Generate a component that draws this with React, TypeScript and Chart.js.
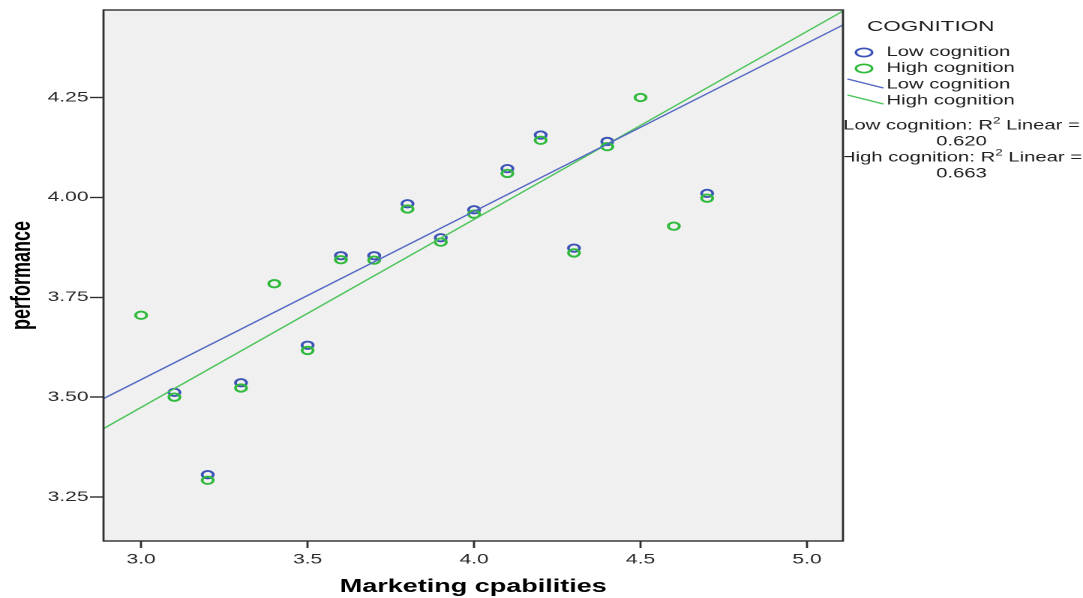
import { useEffect, useRef } from "react";
import { Chart, registerables } from "chart.js";

Chart.register(...registerables);

// Page size and horizontal stretch of the drawing (the chart is laid out
// narrower and shown wider, as the exported figure was).
const PAGE_W = 1083;
const PAGE_H = 598;
const STRETCH = 1.5;
const CHART_W = Math.round(PAGE_W / STRETCH);

// Axis ranges and ticks
const xMin = 2.887;
const xMax = 5.108;
const yMin = 3.14;
const yMax = 4.469;
const xTickValues = [3.0, 3.5, 4.0, 4.5, 5.0];
const yTickValues = [3.25, 3.5, 3.75, 4.0, 4.25];

// Groups
const legendTitle = "COGNITION";
const groupNames = ["Low cognition", "High cognition"];
const r2Values = [0.62, 0.663];

// Low cognition observations
const lowX = [3.1, 3.2, 3.3, 3.5, 3.6, 3.7, 3.8, 3.9, 4.0, 4.1, 4.2, 4.3, 4.4, 4.7];
const lowY = [3.512, 3.306, 3.536, 3.63, 3.854, 3.854, 3.984, 3.899, 3.969, 4.072, 4.156, 3.873, 4.14, 4.01];

// High cognition observations
const highX = [3.0, 3.1, 3.2, 3.3, 3.4, 3.5, 3.6, 3.7, 3.8, 3.9, 4.0, 4.1, 4.2, 4.3, 4.4, 4.5, 4.6, 4.7];
const highY = [3.705, 3.5, 3.292, 3.523, 3.784, 3.617, 3.844, 3.843, 3.971, 3.888, 3.958, 4.06, 4.143, 3.861, 4.127, 4.25, 3.928, 3.998];

// Linear fit coefficients (slope, intercept) per group
const lowFit = [0.421, 2.281];
const highFit = [0.4705, 2.063];

const FONT = '"Liberation Sans", Arial, sans-serif';
const BLUE = "#3d54b6";
const GREEN = "#2fba3c";
const BLUE_LINE = "#5468c4";
const GREEN_LINE = "#4cc45a";
const PLOT_BG = "#f0f0f0";
const FRAME = "#2e2e2e";
const TEXT = "#1e1e1e";

const toPoints = (xs: number[], ys: number[]) => xs.map((x, i) => ({ x, y: ys[i] }));
const fitLine = (fit: number[]) => [xMin, xMax].map((x) => ({ x, y: fit[1] + fit[0] * x }));

const framePlugin = {
  id: "frameAndLegend",
  beforeDraw(chart: any) {
    const { ctx, chartArea: a } = chart;
    ctx.save();
    ctx.fillStyle = "#ffffff";
    ctx.fillRect(0, 0, chart.width, chart.height);
    ctx.fillStyle = PLOT_BG;
    ctx.fillRect(a.left, a.top, a.right - a.left, a.bottom - a.top);
    ctx.restore();
  },
  afterDraw(chart: any) {
    const { ctx, chartArea: a } = chart;
    ctx.save();
    ctx.strokeStyle = FRAME;
    ctx.lineWidth = 1.4;
    ctx.strokeRect(a.left, a.top, a.right - a.left, a.bottom - a.top);
    ctx.restore();

    // Legend panel to the right of the plot, clipped at the frame
    ctx.save();
    ctx.beginPath();
    ctx.rect(a.right + 1, 0, chart.width - a.right, chart.height);
    ctx.clip();
    ctx.fillStyle = TEXT;
    ctx.textBaseline = "middle";
    ctx.textAlign = "left";

    const r = a.right;
    ctx.font = `15px ${FONT}`;
    ctx.fillText(legendTitle, r + 16, 27);

    const markerColors = [BLUE, GREEN];
    const lineColors = [BLUE_LINE, GREEN_LINE];
    ctx.font = `13.5px ${FONT}`;
    groupNames.forEach((name, i) => {
      const y = 52.5 + i * 16;
      ctx.strokeStyle = markerColors[i];
      ctx.lineWidth = 1.7;
      ctx.beginPath();
      ctx.ellipse(r + 14, y, 5.4, 4.1, 0, 0, Math.PI * 2);
      ctx.stroke();
      ctx.fillText(name, r + 29, y);
    });
    groupNames.forEach((name, i) => {
      const y = 85 + i * 16;
      ctx.strokeStyle = lineColors[i];
      ctx.lineWidth = 1.3;
      ctx.beginPath();
      ctx.moveTo(r + 3, y - 6);
      ctx.lineTo(r + 27, y + 3);
      ctx.stroke();
      ctx.fillText(name, r + 29, y);
    });

    const cx = (r + chart.width) / 2 - 1;
    const main = `13.5px ${FONT}`;
    const sup = `9px ${FONT}`;
    groupNames.forEach((name, i) => {
      const y = 126 + i * 32;
      const head = `${name}: R`;
      const tail = " Linear =";
      ctx.font = main;
      const w1 = ctx.measureText(head).width;
      const w3 = ctx.measureText(tail).width;
      ctx.font = sup;
      const w2 = ctx.measureText("2").width;
      let x = cx - (w1 + w2 + w3) / 2;
      ctx.textAlign = "left";
      ctx.font = main;
      ctx.fillText(head, x, y);
      x += w1;
      ctx.font = sup;
      ctx.fillText("2", x, y - 5);
      x += w2;
      ctx.font = main;
      ctx.fillText(tail, x, y);
      ctx.textAlign = "center";
      ctx.fillText(r2Values[i].toFixed(3), cx, y + 16);
    });
    ctx.restore();
  },
};

export default function App() {
  const canvasRef = useRef<HTMLCanvasElement | null>(null);

  useEffect(() => {
    document.body.style.margin = "0";
    const canvas = canvasRef.current;
    if (!canvas) return;

    const tickFont = { family: FONT, size: 14 };
    const titleFont = { family: FONT, size: 18, weight: "bold" as const };

    const chart = new Chart(canvas, {
      type: "scatter",
      data: {
        datasets: [
          {
            label: `${groupNames[0]} fit`,
            data: fitLine(lowFit),
            showLine: true,
            borderColor: BLUE_LINE,
            borderWidth: 1.3,
            pointRadius: 0,
          },
          {
            label: `${groupNames[1]} fit`,
            data: fitLine(highFit),
            showLine: true,
            borderColor: GREEN_LINE,
            borderWidth: 1.3,
            pointRadius: 0,
          },
          {
            label: groupNames[1],
            data: toPoints(highX, highY),
            pointRadius: 3.7,
            pointBorderWidth: 1.9,
            pointBorderColor: GREEN,
            pointBackgroundColor: "rgba(0,0,0,0)",
          },
          {
            label: groupNames[0],
            data: toPoints(lowX, lowY),
            pointRadius: 3.7,
            pointBorderWidth: 1.9,
            pointBorderColor: BLUE,
            pointBackgroundColor: "rgba(0,0,0,0)",
          },
        ],
      },
      options: {
        responsive: false,
        animation: false,
        devicePixelRatio: 2,
        events: [],
        layout: { padding: { top: 10, right: CHART_W - 562, left: 0, bottom: 0 } },
        plugins: { legend: { display: false }, tooltip: { enabled: false } },
        scales: {
          x: {
            type: "linear",
            min: xMin,
            max: xMax,
            afterBuildTicks: (s: any) => {
              s.ticks = xTickValues.map((value) => ({ value }));
            },
            afterFit: (s: any) => {
              s.height = 57;
            },
            ticks: {
              autoSkip: false,
              maxRotation: 0,
              padding: 3,
              color: "#2a2a2a",
              font: tickFont,
              callback: (v: any) => Number(v).toFixed(1),
            },
            grid: {
              drawOnChartArea: false,
              drawTicks: true,
              tickLength: 7,
              tickColor: "#2e2e2e",
              tickWidth: 1.4,
            },
            border: { display: false },
            title: {
              display: true,
              text: "Marketing cpabilities",
              color: "#000",
              font: titleFont,
              padding: { top: 0, bottom: 0 },
            },
          },
          y: {
            type: "linear",
            min: yMin,
            max: yMax,
            afterBuildTicks: (s: any) => {
              s.ticks = yTickValues.map((value) => ({ value }));
            },
            afterFit: (s: any) => {
              s.width = 69;
            },
            ticks: {
              autoSkip: false,
              padding: 1,
              color: "#2a2a2a",
              font: tickFont,
              callback: (v: any) => Number(v).toFixed(2),
            },
            grid: {
              drawOnChartArea: false,
              drawTicks: true,
              tickLength: 9,
              tickColor: "#2e2e2e",
              tickWidth: 1.4,
            },
            border: { display: false },
            title: {
              display: true,
              text: "performance",
              color: "#000",
              font: titleFont,
              padding: { top: 4, bottom: 0 },
            },
          },
        },
      },
      plugins: [framePlugin],
    });

    return () => chart.destroy();
  }, []);

  return (
    <div style={{ width: PAGE_W, height: PAGE_H, background: "#fff" }}>
      <canvas
        ref={canvasRef}
        width={CHART_W}
        height={PAGE_H}
        style={{ width: `${PAGE_W}px`, height: `${PAGE_H}px`, display: "block" }}
      />
    </div>
  );
}
